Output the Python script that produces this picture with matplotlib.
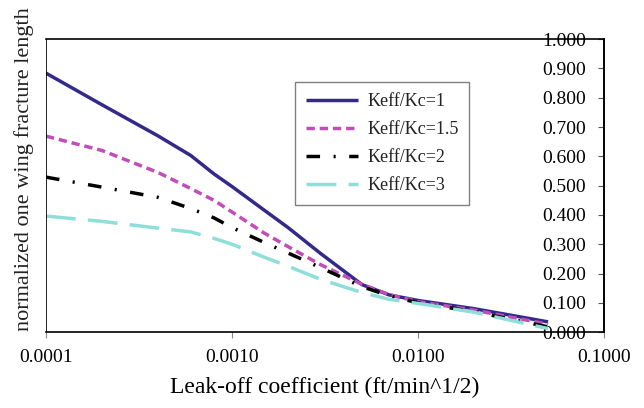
import numpy as np
import matplotlib
matplotlib.use("Agg")
import matplotlib.pyplot as plt
from matplotlib.ticker import FixedLocator, FormatStrFormatter

# ── Data ────────────────────────────────────────────────────
leakoff = [0.0001, 0.0002, 0.0004, 0.0006, 0.0008, 0.001, 0.0015,
           0.002, 0.003, 0.005, 0.007, 0.01, 0.02, 0.05]

len_k1 = [0.884, 0.776, 0.670, 0.603, 0.540, 0.497, 0.415,
          0.357, 0.268, 0.162, 0.127, 0.108, 0.080, 0.035]
len_k15 = [0.669, 0.620, 0.545, 0.490, 0.450, 0.410, 0.337,
           0.292, 0.230, 0.163, 0.128, 0.104, 0.075, 0.027]
len_k2 = [0.529, 0.495, 0.460, 0.422, 0.390, 0.357, 0.305,
          0.270, 0.220, 0.155, 0.124, 0.100, 0.070, 0.018]
len_k3 = [0.396, 0.378, 0.355, 0.342, 0.320, 0.300, 0.255,
          0.225, 0.180, 0.135, 0.112, 0.098, 0.068, 0.012]

series_labels = ["Keff/Kc=1", "Keff/Kc=1.5", "Keff/Kc=2", "Keff/Kc=3"]
x_ticks = [0.0001, 0.001, 0.01, 0.1]
y_ticks = [0.0, 0.1, 0.2, 0.3, 0.4, 0.5, 0.6, 0.7, 0.8, 0.9, 1.0]

# ── Style ───────────────────────────────────────────────────
plt.rcParams.update({
    "font.family": ["Liberation Serif", "DejaVu Serif"],
    "text.color": "#222222",
    "axes.linewidth": 1.2,
})

styles = [
    dict(color="#33298A", lw=2.5, ls="-"),
    dict(color="#C24DB9", lw=2.5, ls=(0, (2.4, 1.4))),
    dict(color="black", lw=2.5, ls=(0, (3.9, 3.9, 0.6, 3.9))),
    dict(color="#8EDFD9", lw=2.5, ls=(0, (8.6, 3.5))),
]

fig = plt.figure(figsize=(6.44, 4.08), dpi=100)
ax = fig.add_axes([0.0714, 0.186, 0.8665, 0.718])

for vals, lab, st in zip([len_k1, len_k15, len_k2, len_k3], series_labels, styles):
    ax.plot(leakoff, vals, label=lab, solid_capstyle="butt",
            dash_capstyle="butt", **st)

ax.set_xscale("log")
ax.set_xlim(0.0001, 0.1)
ax.set_ylim(0, 1.0)

# y-axis sits on the right edge, labels inside the plot area
ax.spines["left"].set_position(("axes", 1.0))
ax.axvline(0.0001, color="black", lw=1.2, zorder=3)
ax.yaxis.set_major_locator(FixedLocator(y_ticks))
ax.yaxis.set_major_formatter(FormatStrFormatter("%.3f"))
ax.tick_params(axis="y", direction="out", length=4, width=0.8,
               labelsize=14, pad=9, color="#555555")

ax.xaxis.set_major_locator(FixedLocator(x_ticks))
ax.xaxis.set_minor_locator(FixedLocator([]))
ax.xaxis.set_major_formatter(FormatStrFormatter("%.4f"))
ax.tick_params(axis="x", direction="out", length=4, width=0.8,
               labelsize=14, pad=8, color="#888888")

ax.set_xlabel("Leak-off coefficient (ft/min^1/2)", fontsize=17, labelpad=8)
fig.text(0.037, 0.585, "normalized one wing fracture length", rotation=90,
         fontsize=16, ha="center", va="center")

leg = ax.legend(loc="upper left", bbox_to_anchor=(295 / 644, 1 - 82 / 408),
                bbox_transform=fig.transFigure, borderaxespad=0,
                fontsize=13, handlelength=2.9, handletextpad=0.5,
                labelspacing=0.62, borderpad=0.6, fancybox=False,
                framealpha=1, edgecolor="#808080")
leg.get_frame().set_linewidth(1.0)

fig.savefig("out.png", dpi=100)
